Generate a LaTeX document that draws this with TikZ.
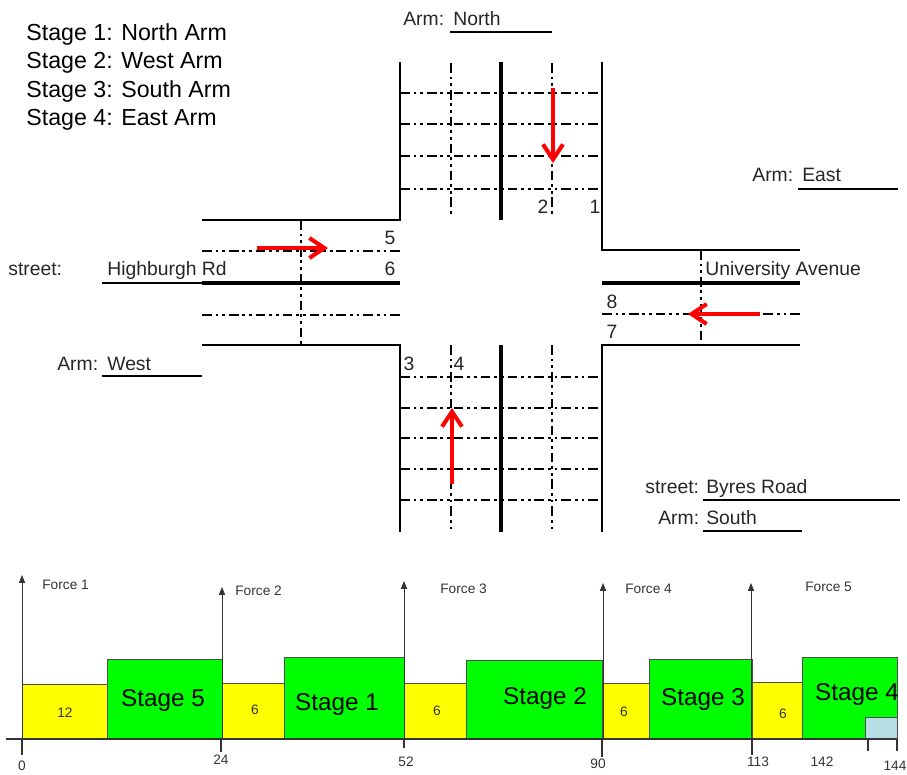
\documentclass[tikz,border=0pt]{standalone}
\usepackage{fontspec}
\setmainfont{Liberation Sans}
\usetikzlibrary{arrows.meta}

\definecolor{stagegreen}{RGB}{0,255,0}
\definecolor{amberyellow}{RGB}{255,255,0}
\definecolor{lateblue}{RGB}{183,222,228}

\tikzset{
  kerb/.style={line width=1.1pt},
  centreline/.style={line width=2.6pt},
  lane/.style={line width=0.8pt, dash pattern=on 5.5pt off 2.2pt on 1.6pt off 2.2pt on 1.6pt off 2.2pt},
  uline/.style={line width=0.8pt},
  flow/.style={red, line width=2.3pt, -{Straight Barb[length=3mm,width=4mm]}},
  lbl/.style={inner sep=0pt, text=black!85, font=\fontsize{11}{13}\selectfont},
  stagelist/.style={inner sep=0pt, anchor=base west, font=\fontsize{13.2}{15}\selectfont},
  force/.style={line width=0.5pt, black!80, -{Triangle[length=4.5pt,width=3.5pt]}},
  smalltxt/.style={inner sep=0pt, text=black!80, font=\fontsize{7.8}{9}\selectfont},
  amberbox/.style={draw=black!70, line width=0.5pt, fill=amberyellow},
  stagebox/.style={draw=black!70, line width=0.5pt, fill=stagegreen},
  latebox/.style={draw=black!70, line width=0.5pt, fill=lateblue},
  bigtxt/.style={inner sep=0pt, font=\fontsize{13.8}{16}\selectfont},
}

\begin{document}
\begin{tikzpicture}[x=0.2mm, y=-0.2mm]
\useasboundingbox (0,0) rectangle (907,774);

\node[stagelist] (st1) at (26,40) {Stage 1: North Arm};
\node[stagelist] (st2) at (26,68) {Stage 2: West Arm};
\node[stagelist] (st3) at (26,97) {Stage 3: South Arm};
\node[stagelist] (st4) at (26,125) {Stage 4: East Arm};

%%%%%%%%%%%%%%%%%%%%%%%%%%%%%%%%%%%%%%%%%
%north arm
\node[lbl, anchor=base west] (armN) at (403,25) {Arm:};
\node[lbl, anchor=base west] (armNname) at (453,25) {North};
\draw[uline] (450,32)--(552,32);

\draw[lane] (400,93)--(602,93);
\draw[lane] (400,124)--(602,124);
\draw[lane] (400,156)--(602,156);
\draw[lane] (400,189)--(602,189);
\draw[lane] (451,63)--(451,217);
\draw[lane] (552,63)--(552,217);
\draw[centreline] (501,62)--(501,220);
\draw[kerb] (400,62)--(400,220)--(202,220);
\draw[kerb] (602,62)--(602,250)--(800,250);

\node[lbl, anchor=base] (lane2) at (543,213) {2};
\node[lbl, anchor=base] (lane1) at (595,213) {1};

\draw[flow] (553,88)--(553,163);

%%%%%%%%%%%%%%%%%%%%%%%%%%%%%%%%%%%%%%%%%
%west arm
\draw[lane] (202,251)--(400,251);
\draw[lane] (202,315)--(400,315);
\draw[lane] (301,220)--(301,345);
\draw[centreline] (202,283)--(400,283);
\draw[uline] (102,283)--(202,283);
\draw[kerb] (202,345)--(400,345)--(400,532);

\node[lbl, anchor=base] (lane5) at (390,244) {5};
\node[lbl, anchor=base] (lane6) at (390,275) {6};
\node[lbl, anchor=base west] (streetW) at (8,275) {street:};
\node[lbl, anchor=base west] (streetWname) at (107,275) {Highburgh Rd};
\node[lbl, anchor=base west] (armW) at (57,370) {Arm:};
\node[lbl, anchor=base west] (armWname) at (107,370) {West};
\draw[uline] (102,376)--(202,376);

\draw[flow] (257,248)--(328,248);

%%%%%%%%%%%%%%%%%%%%%%%%%%%%%%%%%%%%%%%%%
%east arm
\draw[lane] (602,314)--(800,314);
\draw[lane] (701,250)--(701,345);
\draw[centreline] (602,283)--(800,283);
\draw[kerb] (800,345)--(602,345)--(602,532);

\node[lbl, anchor=base] (lane8) at (612,308) {8};
\node[lbl, anchor=base] (lane7) at (612,338) {7};
\node[lbl, anchor=base west] (streetE) at (705,275) {University Avenue};
\node[lbl, anchor=base west] (armE) at (752,181) {Arm:};
\node[lbl, anchor=base west] (armEname) at (802,181) {East};
\draw[uline] (798,189)--(898,189);

\draw[flow] (760,314)--(688,314);

%%%%%%%%%%%%%%%%%%%%%%%%%%%%%%%%%%%%%%%%%
%south arm
\draw[lane] (400,377)--(602,377);
\draw[lane] (400,408)--(602,408);
\draw[lane] (400,438)--(602,438);
\draw[lane] (400,469)--(602,469);
\draw[lane] (400,500)--(602,500);
\draw[lane] (451,345)--(451,532);
\draw[lane] (552,345)--(552,532);
\draw[centreline] (501,345)--(501,532);

\node[lbl, anchor=base] (lane3) at (409,370) {3};
\node[lbl, anchor=base] (lane4) at (459,370) {4};
\node[lbl, anchor=base west] (streetS) at (645,493) {street:};
\node[lbl, anchor=base west] (streetSname) at (706,493) {Byres Road};
\draw[uline] (703,500)--(900,500);
\node[lbl, anchor=base west] (armS) at (658,524) {Arm:};
\node[lbl, anchor=base west] (armSname) at (706,524) {South};
\draw[uline] (703,531)--(802,531);

\draw[flow] (452,484)--(452,408);

%%%%%%%%%%%%%%%%%%%%%%%%%%%%%%%%%%%%%%%%%
%stage timeline
\draw[amberbox] (22,684) rectangle (107,739);
\draw[stagebox] (107,659) rectangle (222,739);
\draw[amberbox] (222,683) rectangle (284,739);
\draw[stagebox] (284,657) rectangle (404,739);
\draw[amberbox] (404,683) rectangle (466,739);
\draw[stagebox] (466,660) rectangle (602,739);
\draw[amberbox] (603,683) rectangle (649,739);
\draw[stagebox] (649,659) rectangle (752,739);
\draw[amberbox] (752,682) rectangle (802,739);
\draw[stagebox] (802,657) rectangle (897,739);
\draw[latebox] (865,717) rectangle (897,739);

\node[smalltxt] (am1) at (65,713) {12};
\node[bigtxt] (sg5) at (163,701) {Stage 5};
\node[smalltxt] (am2) at (255,710) {6};
\node[bigtxt] (sg1) at (337,705) {Stage 1};
\node[smalltxt] (am3) at (437,711) {6};
\node[bigtxt] (sg2) at (545,699) {Stage 2};
\node[smalltxt] (am4) at (624,712) {6};
\node[bigtxt] (sg3) at (703,700) {Stage 3};
\node[smalltxt] (am5) at (783,714) {6};
\node[bigtxt] (sg4) at (857,695) {Stage 4};

\draw[force] (22,739)--(22,575);
\draw[force] (222,739)--(222,587);
\draw[force] (404,739)--(404,581);
\draw[force] (603,739)--(603,583);
\draw[force] (751,739)--(751,583);

\node[smalltxt, anchor=west] (f1) at (42,585) {Force 1};
\node[smalltxt, anchor=west] (f2) at (235,591) {Force 2};
\node[smalltxt, anchor=west] (f3) at (440,589) {Force 3};
\node[smalltxt, anchor=west] (f4) at (625,589) {Force 4};
\node[smalltxt, anchor=west] (f5) at (805,587) {Force 5};

\draw[line width=0.6pt, black!80] (6,739)--(897,739);
\draw[line width=0.6pt, black!80] (22,739)--(22,755);
\draw[line width=0.6pt, black!80] (221,739)--(221,752);
\draw[line width=0.6pt, black!80] (404,739)--(404,748);
\draw[line width=0.6pt, black!80] (602,739)--(602,757);
\draw[line width=0.6pt, black!80] (752,739)--(752,755);
\draw[line width=0.6pt, black!80] (868,739)--(868,751);
\draw[line width=0.6pt, black!80] (897,739)--(897,751);

\node[smalltxt] (t0) at (22,766) {0};
\node[smalltxt] (t24) at (221,760) {24};
\node[smalltxt] (t52) at (406,762) {52};
\node[smalltxt] (t90) at (598,764) {90};
\node[smalltxt] (t113) at (758,762) {113};
\node[smalltxt] (t142) at (822,762) {142};
\node[smalltxt] (t144) at (895,766) {144};

\end{tikzpicture}
\end{document}
